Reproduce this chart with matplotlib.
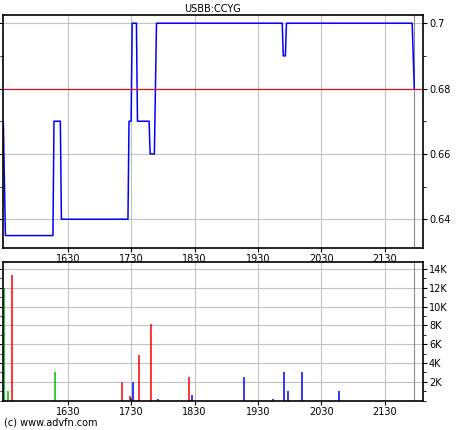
import matplotlib
matplotlib.use("Agg")
import matplotlib.pyplot as plt
from matplotlib.ticker import FixedLocator, MultipleLocator

# price points (minutes since midnight, price)
price_t = [929, 931, 976, 977, 983, 984, 1047, 1048, 1050, 1051, 1055, 1056,
           1067, 1068, 1072, 1074, 1193, 1194, 1196, 1197, 1316, 1318]
price_v = [0.67, 0.635, 0.635, 0.67, 0.67, 0.64, 0.64, 0.67, 0.67, 0.70, 0.70, 0.67,
           0.67, 0.66, 0.66, 0.70, 0.70, 0.69, 0.69, 0.70, 0.70, 0.68]
prev_close = 0.68

# volume bars (minute, volume, colour code)
vol_t = [930, 933, 937, 978, 1041, 1049, 1050, 1052, 1057, 1069, 1075, 1105, 1108,
         1157, 1184, 1195, 1198, 1212, 1247]
vol_v = [12000, 1000, 13300, 3000, 2000, 500, 250, 2000, 4900, 8100, 200, 2500, 600,
         2500, 200, 3000, 1000, 3000, 1000]
vol_c = ["g", "g", "r", "g", "r", "r", "k", "b", "r", "r", "b", "r", "b",
         "b", "b", "b", "b", "b", "b"]

xticks = [990, 1050, 1110, 1170, 1230, 1290]
xlabels = ["1630", "1730", "1830", "1930", "2030", "2130"]
session_end = 1318
colors = {"g": "#00c000", "r": "#ff0000", "b": "#0000ff", "k": "#202020"}
gridc = "#bcc4c4"

fig = plt.figure(figsize=(4.6, 4.3), dpi=100)
ax1 = fig.add_axes([0.006, 0.4233, 0.913, 0.5425])
ax2 = fig.add_axes([0.006, 0.0681, 0.913, 0.3219])

for ax in (ax1, ax2):
    ax.set_xlim(928.5, 1326)
    ax.xaxis.set_major_locator(FixedLocator(xticks))
    ax.set_xticklabels(xlabels)
    ax.grid(True, color=gridc, linewidth=0.8)
    ax.axvline(session_end, color="#8c8c8c", linewidth=0.8)
    ax.yaxis.tick_right()
    ax.tick_params(axis="both", labelsize=7, length=3, width=0.8, direction="out",
                   right=True, left=True, pad=1.5)
    ax.tick_params(axis="y", which="minor", length=2, left=True, right=True)
    for s in ax.spines.values():
        s.set_linewidth(1.2)

ax1.plot(price_t, price_v, color="#0000ff", linewidth=1.1)
ax1.axhline(prev_close, color="#ff0000", linewidth=0.8)
ax1.set_ylim(0.6312, 0.7026)
ax1.yaxis.set_major_locator(FixedLocator([0.64, 0.66, 0.68, 0.70]))
ax1.set_yticklabels(["0.64", "0.66", "0.68", "0.7"])
ax1.yaxis.set_minor_locator(MultipleLocator(0.01))
ax1.set_title("USBB:CCYG", fontsize=7, pad=2)

ax2.vlines(vol_t, 0, vol_v, colors=[colors[c] for c in vol_c], linewidth=1.1)
ax2.set_ylim(0, 14700)
ax2.yaxis.set_major_locator(FixedLocator([2000, 4000, 6000, 8000, 10000, 12000, 14000]))
ax2.set_yticklabels(["2K", "4K", "6K", "8K", "10K", "12K", "14K"])
ax2.yaxis.set_minor_locator(MultipleLocator(1000))

fig.text(0.008, 0.018, "(c) www.advfn.com", fontsize=7, ha="left", va="center")

fig.savefig("out.png", dpi=100)
